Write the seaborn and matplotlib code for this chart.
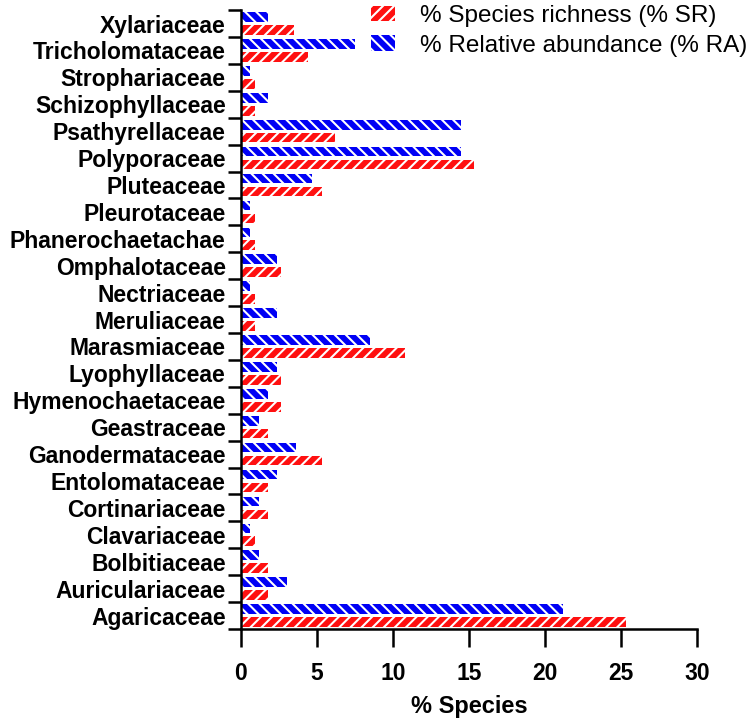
import pandas as pd
import matplotlib
matplotlib.use("Agg")
import matplotlib.pyplot as plt
from matplotlib.patches import Patch
import seaborn as sns

# Data (top to bottom as shown)
families = ["Xylariaceae", "Tricholomataceae", "Strophariaceae", "Schizophyllaceae",
            "Psathyrellaceae", "Polyporaceae", "Pluteaceae", "Pleurotaceae",
            "Phanerochaetachae", "Omphalotaceae", "Nectriaceae", "Meruliaceae",
            "Marasmiaceae", "Lyophyllaceae", "Hymenochaetaceae", "Geastraceae",
            "Ganodermataceae", "Entolomataceae", "Cortinariaceae", "Clavariaceae",
            "Bolbitiaceae", "Auriculariaceae", "Agaricaceae"]
species_richness = [3.5, 4.4, 0.9, 0.9, 6.2, 15.3, 5.3, 0.9, 0.9, 2.65, 0.9, 0.9,
                    10.8, 2.65, 2.65, 1.8, 5.3, 1.8, 1.8, 0.9, 1.8, 1.8, 25.3]
relative_abundance = [1.8, 7.5, 0.6, 1.8, 14.5, 14.5, 4.7, 0.6, 0.6, 2.4, 0.6, 2.4,
                      8.5, 2.4, 1.8, 1.2, 3.6, 2.4, 1.2, 0.6, 1.2, 3.0, 21.2]
series_names = ["% Species richness (% SR)", "% Relative abundance (% RA)"]
x_ticks = [0, 5, 10, 15, 20, 25, 30]

df = pd.concat([
    pd.DataFrame({"family": families, "value": relative_abundance, "series": series_names[1]}),
    pd.DataFrame({"family": families, "value": species_richness, "series": series_names[0]}),
])

sns.set_style("ticks")
plt.rcParams["font.family"] = ["Liberation Sans", "DejaVu Sans"]
plt.rcParams["hatch.linewidth"] = 1.5
plt.rcParams["text.color"] = "black"
plt.rcParams["xtick.color"] = "black"
plt.rcParams["ytick.color"] = "black"
plt.rcParams["axes.labelcolor"] = "black"

red = "#FF1010"
blue = "#0000F5"
hatches = {series_names[0]: "///", series_names[1]: "\\\\\\"}
colors = {series_names[0]: red, series_names[1]: blue}

fig = plt.figure(figsize=(7.5, 7.21), dpi=100)
ax = fig.add_axes([0.3213, 0.1276, 0.9293 - 0.3213, 0.986 - 0.1276])

sns.barplot(data=df, y="family", x="value", hue="series", order=families,
            hue_order=[series_names[1], series_names[0]], palette=colors,
            saturation=1, orient="h", width=0.96, gap=0.25, legend=False, ax=ax)

# white hatching on every bar
for container, name in zip(ax.containers, [series_names[1], series_names[0]]):
    for bar in container:
        bar.set_hatch(hatches[name])
        bar.set_edgecolor("white")
        bar.set_linewidth(0)

ax.set_xlim(0, 30)
ax.set_ylim(len(families) - 0.5, -0.5)
ax.set_xticks(x_ticks)
ax.set_yticks(range(len(families)))
ax.set_yticks([i - 0.5 for i in range(len(families) + 1)], minor=True)
ax.set_yticklabels(families, fontsize=16.5, fontweight="bold")
ax.set_xticklabels([str(v) for v in x_ticks], fontsize=16.5, fontweight="bold")
ax.tick_params(axis="y", which="major", length=0, pad=11)
ax.tick_params(axis="y", which="minor", length=9.5, width=1.8, color="black")
ax.tick_params(axis="x", which="major", length=13, width=1.8, pad=11, color="black")
ax.set_ylabel("")
ax.set_xlabel("% Species", fontsize=17, fontweight="bold", labelpad=7)
sns.despine(ax=ax)
for s in ["left", "bottom"]:
    ax.spines[s].set_linewidth(1.8)
    ax.spines[s].set_color("black")

handles = [Patch(facecolor=red, edgecolor="white", hatch="///", linewidth=0),
           Patch(facecolor=blue, edgecolor="white", hatch="\\\\\\", linewidth=0)]
fig.legend(handles, series_names, loc="upper right", bbox_to_anchor=(1.025, 1.023),
           frameon=False, fontsize=17.5, handlelength=1.0, handleheight=0.6,
           handletextpad=1.0, labelspacing=0.3)

plt.savefig("out.png", dpi=100)
plt.close()
